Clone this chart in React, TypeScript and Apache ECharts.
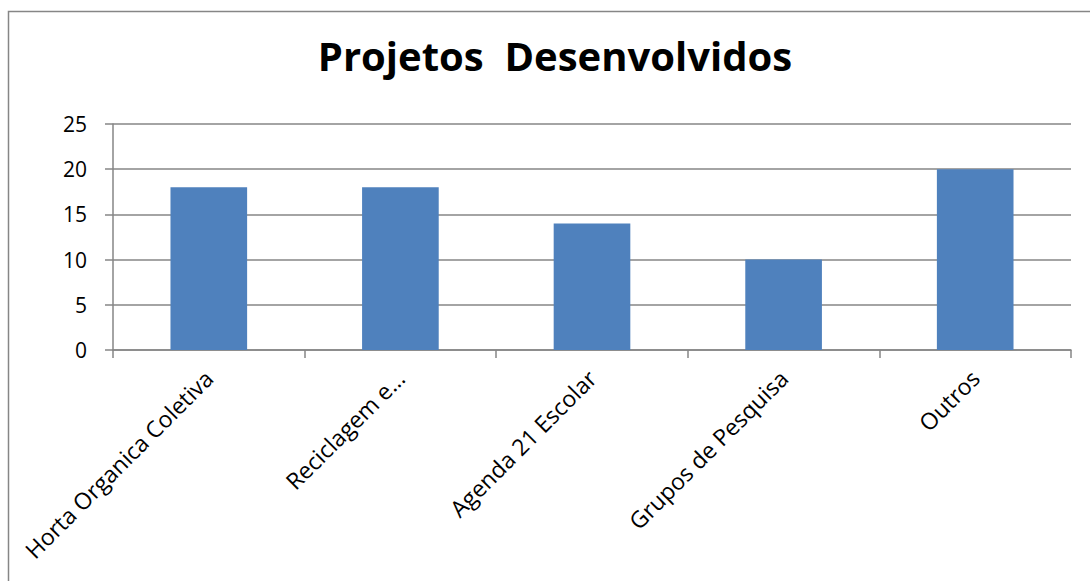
import React, { useEffect, useRef } from "react";
import * as echarts from "echarts";

const categories = [
  "Horta Organica Coletiva",
  "Reciclagem e…",
  "Agenda 21 Escolar",
  "Grupos de Pesquisa",
  "Outros",
];
const values = [18, 18, 14, 10, 20];
const titleText = "Projetos  Desenvolvidos";

export default function App() {
  const ref = useRef<HTMLDivElement>(null);
  useEffect(() => {
    if (!ref.current) return;
    const chart = echarts.init(ref.current, undefined, { renderer: "svg" });
    const font = "'Open Sans', sans-serif";
    chart.setOption({
      animation: false,
      backgroundColor: "#ffffff",
      graphic: [
        {
          type: "rect",
          shape: { x: 8.5, y: 11.5, width: 1200, height: 700 },
          style: { fill: "none", stroke: "#868686", lineWidth: 1.5 },
          silent: true,
        },
        {
          type: "text",
          x: 555,
          y: 55,
          style: {
            text: titleText,
            fill: "#000",
            font: `bold 40px ${font}`,
            textAlign: "center",
            textVerticalAlign: "middle",
          },
        },
      ],
      grid: { left: 113, right: 19, top: 124, bottom: 231, containLabel: false },
      xAxis: {
        type: "category",
        data: categories,
        axisLine: { show: true, lineStyle: { color: "#868686", width: 1.5 } },
        axisTick: { show: true, length: 8, lineStyle: { color: "#868686", width: 1.5 } },
        axisLabel: {
          rotate: 45,
          interval: 0,
          margin: 24,
          color: "#000",
          fontFamily: font,
          fontSize: 23,
        },
      },
      yAxis: {
        type: "value",
        min: 0,
        max: 25,
        interval: 5,
        axisLine: { show: true, lineStyle: { color: "#868686", width: 1.5 } },
        axisTick: { show: true, length: 8, lineStyle: { color: "#868686", width: 1.5 } },
        axisLabel: { margin: 26, color: "#000", fontFamily: font, fontSize: 21 },
        splitLine: { show: true, lineStyle: { color: "#868686", width: 1.5 } },
      },
      series: [
        {
          type: "bar",
          data: values,
          barCategoryGap: "60%",
          itemStyle: { color: "#4F81BD" },
        },
      ],
    });
    return () => chart.dispose();
  }, []);
  return (
    <div
      ref={ref}
      style={{ position: "fixed", left: 0, top: 0, width: 1090, height: 581 }}
    />
  );
}
